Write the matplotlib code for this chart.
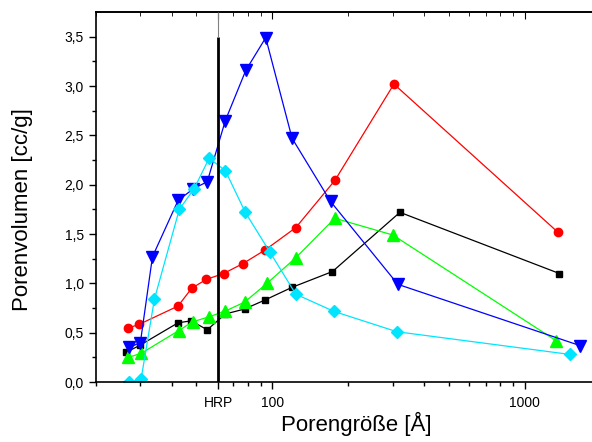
import numpy as np
import matplotlib.pyplot as plt
from matplotlib.ticker import FixedLocator, NullFormatter

plt.rcParams['font.family'] = ['Liberation Sans', 'DejaVu Sans']

# pore size [Angstrom] and pore volume [cc/g]
x_black = [26.3, 30.0, 42.3, 47.6, 55.2, 65.2, 77.6, 93.2, 119.7, 173, 320, 1370]
y_black = [0.30, 0.375, 0.60, 0.62, 0.53, 0.69, 0.74, 0.83, 0.96, 1.12, 1.72, 1.10]

x_red = [26.7, 29.7, 42.3, 47.9, 54.7, 64.1, 76.4, 93.8, 123.8, 177, 303, 1349]
y_red = [0.545, 0.585, 0.77, 0.95, 1.04, 1.10, 1.20, 1.34, 1.565, 2.045, 3.02, 1.52]

x_green = [26.9, 30.2, 42.5, 48.3, 56.0, 65.2, 77.6, 95.2, 123.8, 176.8, 300, 1328]
y_green = [0.25, 0.29, 0.52, 0.61, 0.66, 0.72, 0.81, 1.00, 1.26, 1.66, 1.49, 0.42]

x_blue = [27.1, 30.0, 33.5, 42.3, 48.7, 55.2, 65.1, 78.5, 94.1, 119.7, 170, 314, 1650]
y_blue = [0.35, 0.40, 1.27, 1.84, 1.96, 2.03, 2.65, 3.16, 3.49, 2.47, 1.83, 0.99, 0.37]

x_cyan = [27.1, 30.2, 34.1, 42.8, 49.0, 56.2, 65.2, 78.1, 97.6, 123.8, 175.7, 311, 1506]
y_cyan = [0.0, 0.03, 0.84, 1.75, 1.96, 2.27, 2.14, 1.72, 1.32, 0.89, 0.715, 0.51, 0.28]

hrp = 61
xtick_pos = [hrp, 100, 1000]
xtick_lab = ['HRP', '100', '1000']
yticks = [0.0, 0.5, 1.0, 1.5, 2.0, 2.5, 3.0, 3.5]

fig = plt.figure(figsize=(5.92, 4.42), dpi=100)
ax = fig.add_axes([0.162, 0.1357, 0.853, 0.837])

lw = 0.9
ax.plot(x_black, y_black, '-s', color='black', lw=lw, ms=5)
ax.plot(x_red, y_red, '-o', color='#ff0000', lw=lw, ms=6)
ax.plot(x_green, y_green, '-^', color='#00ff00', lw=lw, ms=8)
ax.plot(x_blue, y_blue, '-v', color='#0000ff', lw=lw, ms=8)
ax.plot(x_cyan, y_cyan, '-D', color='#00e5ff', lw=lw, ms=6.5)

# HRP marker line
ax.vlines(hrp, 0, 3.5, color='black', lw=2, zorder=5)
ax.vlines(hrp, 3.5, 3.75, color='gray', lw=0.8, zorder=5)

ax.set_xscale('log')
ax.set_xlim(20, 2000)
ax.set_ylim(0, 3.75)

ax.xaxis.set_major_locator(FixedLocator(xtick_pos))
ax.set_xticklabels(xtick_lab)
minors = [v for v in list(range(20, 100, 10)) + list(range(200, 1000, 100)) + [2000] if v != 60]
ax.xaxis.set_minor_locator(FixedLocator(minors))
ax.xaxis.set_minor_formatter(NullFormatter())

ax.set_yticks(yticks)
ax.set_yticklabels([f'{v:.1f}'.replace('.', ',') for v in yticks])
ax.set_yticks(np.arange(0.25, 3.75, 0.5), minor=True)

ax.tick_params(which='major', direction='out', length=5, width=1, labelsize=10)
ax.tick_params(axis='x', which='major', pad=5)
ax.tick_params(which='minor', direction='out', length=3, width=1)

top = ax.secondary_xaxis('top')
top.xaxis.set_major_locator(FixedLocator(xtick_pos))
top.xaxis.set_minor_locator(FixedLocator(minors))
top.xaxis.set_major_formatter(NullFormatter())
top.xaxis.set_minor_formatter(NullFormatter())
top.tick_params(which='major', direction='in', length=5)
top.tick_params(which='minor', direction='in', length=3)

for s in ax.spines.values():
    s.set_linewidth(1.2)
top.spines['top'].set_linewidth(1.2)

ax.set_xlabel('Porengröße [Å]', fontsize=16)
ax.xaxis.set_label_coords(0.516, -0.082)
ax.set_ylabel('Porenvolumen [cc/g]', fontsize=16)
ax.yaxis.set_label_coords(-0.125, 0.465)

fig.savefig('out.png', dpi=100)
